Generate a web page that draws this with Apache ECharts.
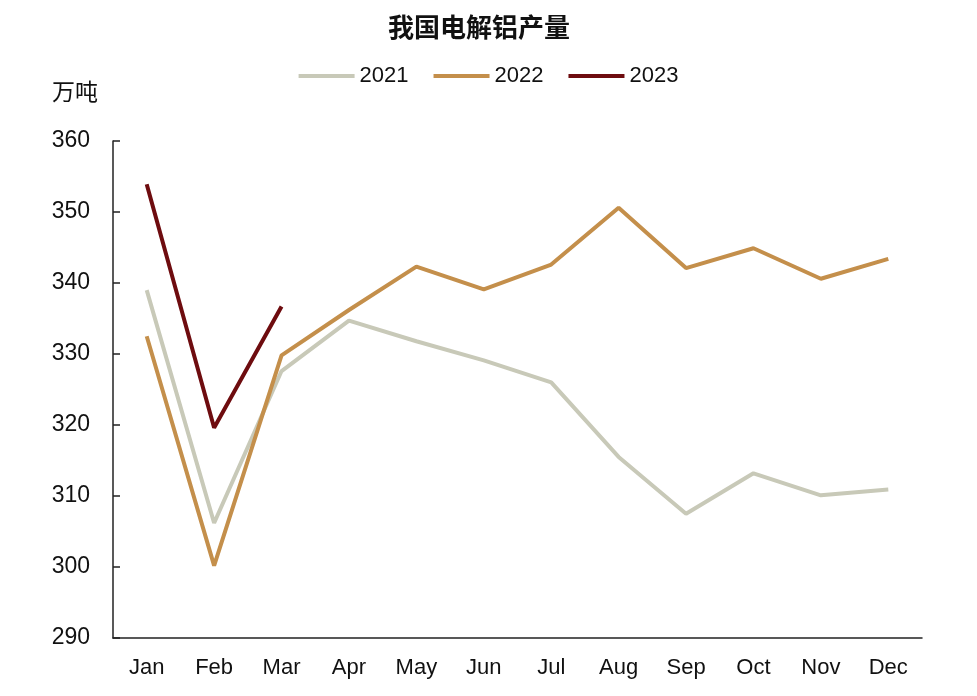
<!DOCTYPE html>
<html><head><meta charset="utf-8">
<script src="https://cdn.jsdelivr.net/npm/echarts@6/dist/echarts.min.js"></script>
<style>html,body{margin:0;padding:0;background:#fff}#c{width:977px;height:696px}</style>
</head><body><div id="c"></div>
<script>
const categories = ['Jan','Feb','Mar','Apr','May','Jun','Jul','Aug','Sep','Oct','Nov','Dec'];
const s2021 = [339.0, 306.2, 327.6, 334.7, 331.8, 329.1, 326.0, 315.5, 307.5, 313.2, 310.1, 310.9];
const s2022 = [332.5, 300.2, 329.8, 336.2, 342.3, 339.1, 342.6, 350.6, 342.1, 344.9, 340.6, 343.4];
const s2023 = [353.9, 319.6, 336.7];
const seriesNames = ['2021','2022','2023'];
const colors = ['#c8c9b8','#c48f4b','#6e0c0f'];
const font = '"Liberation Sans", "Noto Sans CJK SC", sans-serif';
const cjk = '"Noto Sans CJK SC", sans-serif';
const chart = echarts.init(document.getElementById('c'));
const mk = (name, data, color) => ({
  name, type: 'line', data, symbol: 'none',
  lineStyle: { color, width: 4 }, itemStyle: { color }
});
chart.setOption({
  animation: false,
  color: colors,
  title: { text: '我国电解铝产量', left: 383, top: 9,
    textStyle: { fontFamily: cjk, fontSize: 26, fontWeight: 'bold', color: '#111' } },
  legend: { top: 60, left: 'center', itemWidth: 56, itemHeight: 4, itemGap: 25,
    icon: 'rect',
    textStyle: { fontFamily: font, fontSize: 22, color: '#111' },
    data: seriesNames },
  grid: { left: 113, right: 55, top: 141, bottom: 58 },
  xAxis: { type: 'category', data: categories, boundaryGap: true,
    axisLine: { lineStyle: { color: '#222', width: 1.5 } },
    axisTick: { inside: true, length: 7, lineStyle: { color: '#222', width: 1.5 } },
    axisLabel: { fontFamily: font, fontSize: 22, color: '#111', margin: 19 } },
  yAxis: { type: 'value', min: 290, max: 360, interval: 10,
    name: '万吨', nameLocation: 'end', nameGap: 38,
    nameTextStyle: { fontFamily: cjk, fontSize: 23, color: '#111', align: 'right', padding: [0, 15, 0, 0] },
    splitLine: { show: false },
    axisLine: { show: true, lineStyle: { color: '#222', width: 1.5 } },
    axisTick: { show: true, inside: true, length: 7, lineStyle: { color: '#222', width: 1.5 } },
    axisLabel: { fontFamily: font, fontSize: 23, color: '#111', margin: 23 } },
  series: [ mk('2021', s2021, colors[0]), mk('2022', s2022, colors[1]), mk('2023', s2023, colors[2]) ]
});
</script></body></html>
